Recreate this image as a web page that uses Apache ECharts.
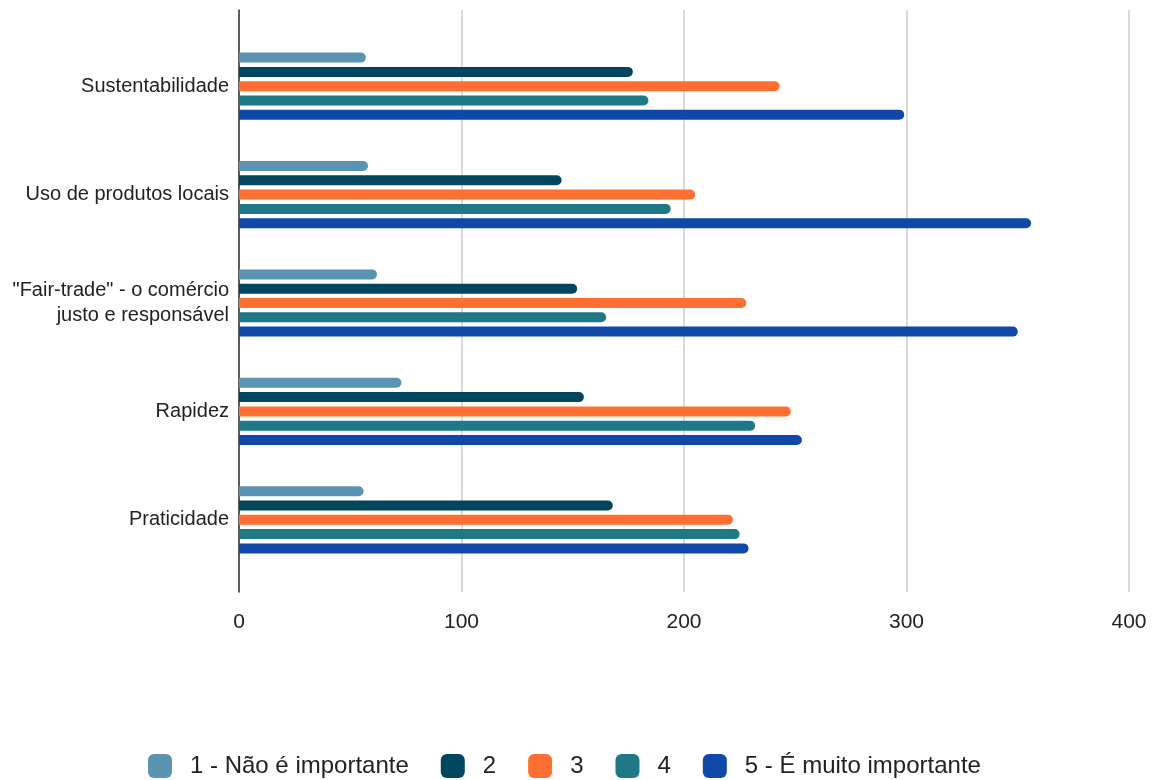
<!DOCTYPE html>
<html>
<head>
<meta charset="utf-8">
<script src="https://cdn.jsdelivr.net/npm/echarts@6/dist/echarts.min.js"></script>
<style>
  html, body { margin: 0; padding: 0; background: #fff; }
  #chart { width: 1153px; height: 780px; }
</style>
</head>
<body>
<div id="chart"></div>
<script>
// Criteria rated on a 1-5 importance scale
const categories = [
  'Sustentabilidade',
  'Uso de produtos locais',
  '"Fair-trade" - o comércio\njusto e responsável',
  'Rapidez',
  'Praticidade'
];

const seriesNames = ['1 - Não é importante', '2', '3', '4', '5 - É muito importante'];

const rating1 = [57, 58, 62, 73, 56];
const rating2 = [177, 145, 152, 155, 168];
const rating3 = [243, 205, 228, 248, 222];
const rating4 = [184, 194, 165, 232, 225];
const rating5 = [299, 356, 350, 253, 229];

const xTicks = [0, 100, 200, 300, 400];

const colors = ['#5a94b2', '#01465f', '#ff6f31', '#1f7886', '#1048a8'];
const ratings = [rating1, rating2, rating3, rating4, rating5];

const chart = echarts.init(document.getElementById('chart'));

const font = "'Liberation Sans', Arial, sans-serif";

chart.setOption({
  animation: false,
  color: colors,
  textStyle: { fontFamily: font },
  legend: {
    top: 754,
    left: 148,
    padding: 0,
    itemWidth: 24,
    itemHeight: 24,
    itemGap: 32,
    icon: 'roundRect',
    textStyle: { fontSize: 24, color: '#222', fontFamily: font, padding: [0, 0, 0, 13] },
    data: seriesNames
  },
  grid: [
    // frame carrying the value scale, gridlines and the zero line
    { left: 239, right: 24, top: 10, bottom: 188 },
    // inner band where the category rows sit
    { left: 239, right: 24, top: 32, bottom: 206 }
  ],
  xAxis: [
    {
      gridIndex: 0,
      type: 'value',
      min: xTicks[0],
      max: xTicks[xTicks.length - 1],
      interval: 100,
      axisLine: { show: false },
      axisTick: { show: false },
      splitLine: { show: true, lineStyle: { color: '#cccccc', width: 1.5 } },
      axisLabel: { fontSize: 21, color: '#222', margin: 20, fontFamily: font }
    },
    {
      gridIndex: 1,
      type: 'value',
      min: xTicks[0],
      max: xTicks[xTicks.length - 1],
      show: false
    }
  ],
  yAxis: [
    {
      gridIndex: 0,
      type: 'value',
      axisLine: { show: true, lineStyle: { color: '#333', width: 1.5 } },
      axisTick: { show: false },
      axisLabel: { show: false },
      splitLine: { show: false }
    },
    {
      gridIndex: 1,
      type: 'category',
      inverse: true,
      data: categories,
      axisLine: { show: false },
      axisTick: { show: false },
      splitLine: { show: false },
      axisLabel: {
        fontSize: 20,
        color: '#222',
        margin: 10,
        lineHeight: 25,
        align: 'right',
        fontFamily: font
      }
    }
  ],
  series: ratings.map((vals, i) => ({
    name: seriesNames[i],
    type: 'bar',
    xAxisIndex: 1,
    yAxisIndex: 1,
    data: vals,
    barWidth: 10,
    barGap: '43%',
    itemStyle: { borderRadius: [0, 5, 5, 0] }
  }))
});
</script>
</body>
</html>
